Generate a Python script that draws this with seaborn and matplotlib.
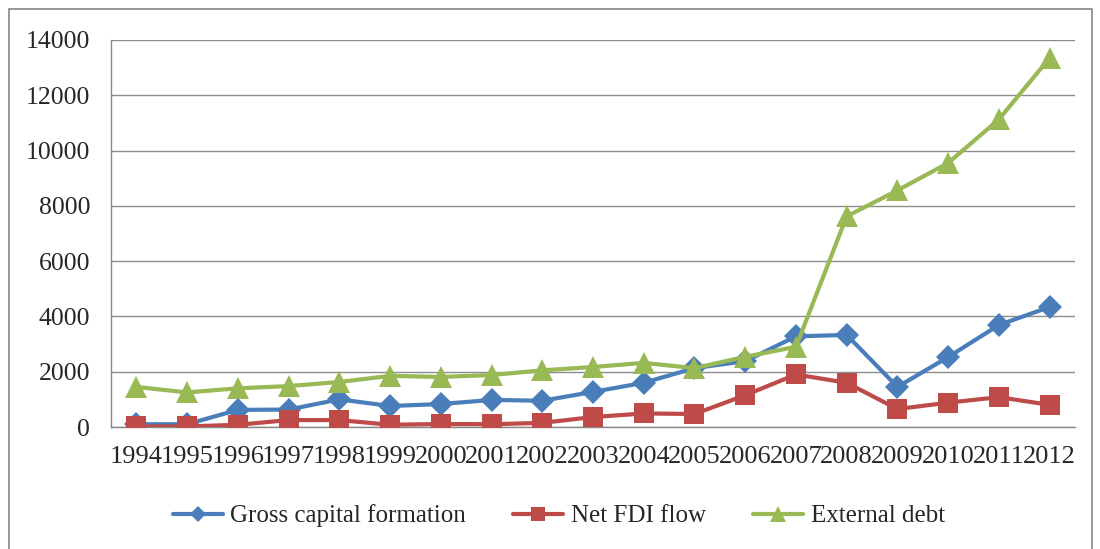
import matplotlib
matplotlib.use("Agg")
import matplotlib.pyplot as plt
import seaborn as sns
import pandas as pd
from matplotlib.patches import Rectangle
from matplotlib.lines import Line2D

years = list(range(1994, 2013))
gross_capital = [100, 100, 620, 630, 1000, 760, 830, 980, 950, 1270, 1600, 2130, 2380, 3280, 3330, 1450, 2530, 3690, 4340]
net_fdi = [20, 20, 80, 250, 250, 80, 110, 100, 150, 360, 490, 470, 1150, 1900, 1600, 650, 880, 1080, 800]
external_debt = [1450, 1250, 1400, 1480, 1630, 1850, 1810, 1880, 2050, 2170, 2320, 2130, 2540, 2900, 7620, 8560, 9550, 11130, 13350]
series_names = ["Gross capital formation", "Net FDI flow", "External debt"]
y_ticks = [0, 2000, 4000, 6000, 8000, 10000, 12000, 14000]

df = pd.DataFrame({
    "year": years * 3,
    "value": gross_capital + net_fdi + external_debt,
    "series": sum([[n] * len(years) for n in series_names], []),
})

sns.set_style("white")
plt.rcParams["font.family"] = ["Liberation Serif", "DejaVu Serif"]

fig = plt.figure(figsize=(11, 5.49), dpi=100)
ax = fig.add_axes([111 / 1100, 1 - 427 / 549, (1075 - 111) / 1100, (427 - 40) / 549])

colors = {"Gross capital formation": "#4A7EBB", "Net FDI flow": "#BE4B48", "External debt": "#98B954"}
markers = {"Gross capital formation": "D", "Net FDI flow": "s", "External debt": "^"}
msizes = {"Gross capital formation": 12, "Net FDI flow": 14, "External debt": 15.5}

for name in series_names:
    sub = df[df["series"] == name]
    sns.lineplot(data=sub, x="year", y="value", ax=ax, color=colors[name], marker=markers[name],
                 markersize=msizes[name], markeredgewidth=0, linewidth=3, zorder=3, legend=False)

ax.set_xlim(years[0] - 0.5, years[-1] + 0.5)
ax.set_ylim(0, 14000)
ax.set_yticks(y_ticks)
ax.set_yticklabels([str(t) for t in y_ticks], fontsize=18.5)
ax.set_xticks(years)
ax.set_xticklabels([str(y) for y in years], fontsize=19)
ax.set_xticks([y + 0.5 for y in [years[0] - 1] + years], minor=True)
ax.tick_params(axis="x", which="major", length=0, pad=14)
ax.tick_params(axis="x", which="minor", length=6, color="#868686", width=1, direction="out")
ax.tick_params(axis="y", which="major", length=6, color="#868686", width=1, direction="out", pad=9)
ax.set_xlabel("")
ax.set_ylabel("")
ax.grid(axis="y", color="#8C8C8C", linewidth=1)
ax.set_axisbelow(True)
for s in ["top", "right"]:
    ax.spines[s].set_visible(False)
for s in ["left", "bottom"]:
    ax.spines[s].set_color("#868686")
    ax.spines[s].set_linewidth(1)

handles = [Line2D([], [], color=colors[n], marker=markers[n], markersize=msizes[n] * 0.7,
                  markeredgewidth=0, linewidth=3) for n in series_names]
ax.legend(handles, series_names, loc="center", bbox_to_anchor=(0.508, 1 - 516 / 549), bbox_transform=fig.transFigure,
          ncol=3, frameon=False, fontsize=18, handlelength=2.0, handletextpad=0.3, columnspacing=1.9)

fig.patches.append(Rectangle((9 / 1100, -0.01), (1092 - 9) / 1100, 1 - 9 / 549 + 0.01, transform=fig.transFigure,
                             fill=False, edgecolor="#868686", linewidth=1.2))

fig.savefig("out.png", dpi=100)
